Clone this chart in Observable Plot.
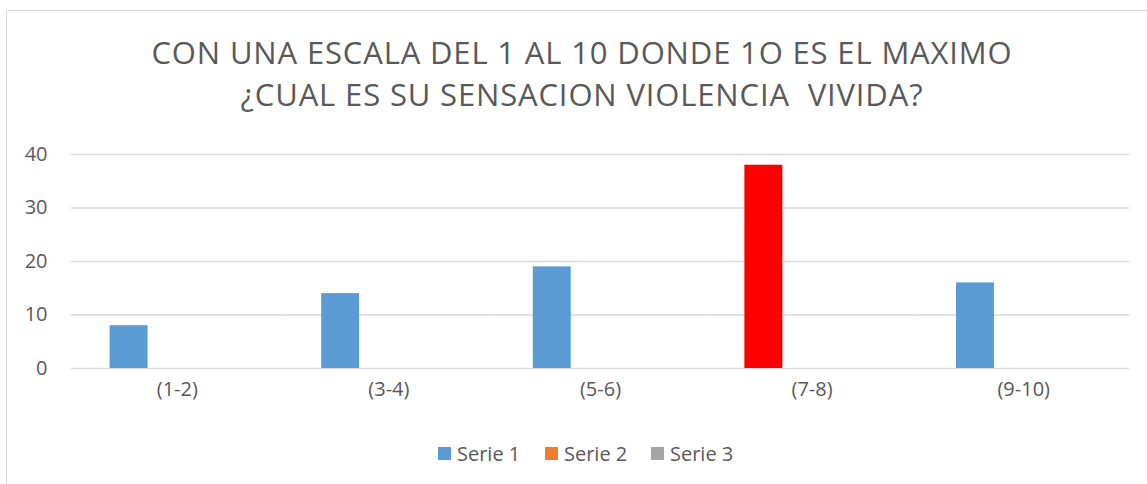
<!DOCTYPE html>
<html>
<head>
<meta charset="utf-8">
<script src="https://cdn.jsdelivr.net/npm/d3@7"></script>
<script src="https://cdn.jsdelivr.net/npm/@observablehq/plot@0.6"></script>
<style>
  html, body { margin: 0; padding: 0; background: #fff; }
  #wrap { position: relative; width: 1147px; height: 484px; overflow: hidden; font-family: "Open Sans", sans-serif; color: #595959; }
  #border { position: absolute; left: 6px; top: 10px; width: 1200px; height: 600px; border-left: 1.5px solid #d9d9d9; border-top: 1.5px solid #d9d9d9; box-sizing: border-box; }
  #title { position: absolute; left: 0; width: 1164px; top: 31px; text-align: center; font-size: 31px; letter-spacing: 0.85px; line-height: 42px; white-space: pre; color: #595959; }
  #chart { position: absolute; left: 0; top: 0; }
  #chart svg text { font-size: 20px !important; font-family: "Open Sans", sans-serif !important; }
  #legend { position: absolute; top: 441px; left: 0; width: 1147px; height: 24px; }
  .item { position: absolute; top: 0; display: flex; align-items: center; font-size: 20px; color: #595959; height: 24px; }
  .sw { width: 13px; height: 13px; margin-right: 6px; }
</style>
</head>
<body>
<div id="wrap">
  <div id="border"></div>
  <div id="chart"></div>
  <div id="title"></div>
  <div id="legend"></div>
</div>
<script>
const titleLines = ["CON UNA ESCALA DEL 1 AL 10 DONDE 1O ES EL MAXIMO", "¿CUAL ES SU SENSACION VIOLENCIA  VIVIDA?"];
const categories = ["(1-2)", "(3-4)", "(5-6)", "(7-8)", "(9-10)"];
const seriesNames = ["Serie 1", "Serie 2", "Serie 3"];
const serie1 = [8, 14, 19, 38, 16];
const serie2 = [0, 0, 0, 0, 0];
const serie3 = [0, 0, 0, 0, 0];
const seriesColors = ["#5B9BD5", "#ED7D31", "#A5A5A5"];
const highlightCategory = "(7-8)";
const highlightColor = "#FF0000";
const yTicks = [0, 10, 20, 30, 40];

const allSeries = [serie1, serie2, serie3];
const rows = [];
categories.forEach((c, i) => {
  seriesNames.forEach((s, j) => {
    rows.push({category: c, series: s, value: allSeries[j][i],
      color: (j === 0 && c === highlightCategory) ? highlightColor : seriesColors[j]});
  });
});

document.getElementById("title").textContent = titleLines.join("\n");

const plot = Plot.plot({
  width: 1147,
  height: 484,
  marginTop: 154,
  marginBottom: 116,
  marginLeft: 71,
  marginRight: 18,
  style: {fontFamily: "'Open Sans', sans-serif", fontSize: "20px", color: "#595959", background: "transparent"},
  fx: {domain: categories, padding: 0, label: null, round: false},
  x: {domain: seriesNames, paddingInner: 0.2136, paddingOuter: 0.80, round: false, axis: null},
  y: {domain: [0, 40], label: null},
  marks: [
    Plot.gridY(yTicks, {stroke: "#d9d9d9", strokeOpacity: 1, strokeWidth: 1.5}),
    Plot.axisY(yTicks, {tickSize: 0, tickPadding: 24, fontSize: 20, fill: "#595959", label: null}),
    Plot.axisFx({anchor: "bottom", tickSize: 0, tickPadding: 13, fontSize: 20, fill: "#595959", label: null}),
    Plot.barY(rows, {fx: "category", x: "series", y: "value", fill: "color"})
  ]
});
document.getElementById("chart").appendChild(plot);

const legend = document.getElementById("legend");
const legendLefts = [438, 545, 651];
seriesNames.forEach((s, j) => {
  const it = document.createElement("div");
  it.className = "item";
  it.style.left = legendLefts[j] + "px";
  const sw = document.createElement("div");
  sw.className = "sw";
  sw.style.background = seriesColors[j];
  it.appendChild(sw);
  it.appendChild(document.createTextNode(s));
  legend.appendChild(it);
});
</script>
</body>
</html>
